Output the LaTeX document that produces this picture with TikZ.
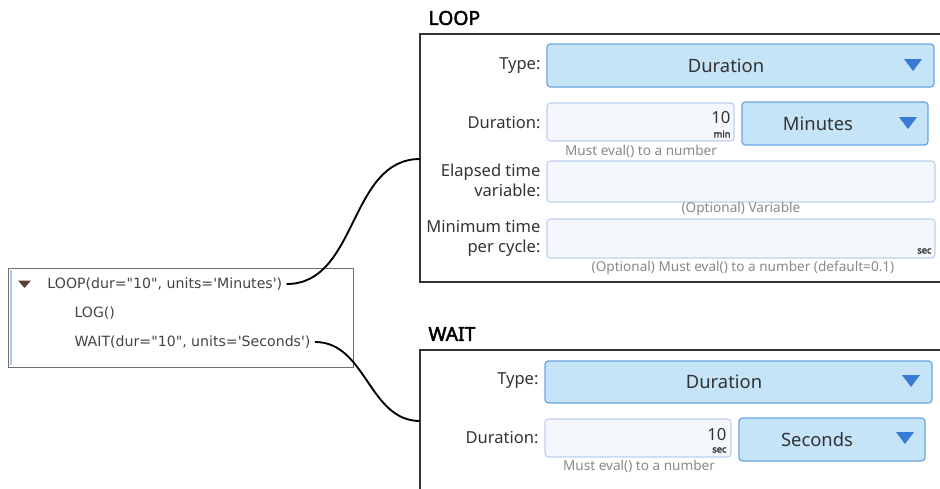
\documentclass[tikz,border=0pt]{standalone}
\usepackage{fontspec}
\setmainfont{Noto Sans}[AutoFakeBold=2.5]
\newfontfamily\treefont{DejaVu Sans}

\definecolor{dropFill}{RGB}{198,228,247}
\definecolor{dropLine}{RGB}{104,166,226}
\definecolor{triBlue}{RGB}{56,122,212}
\definecolor{fieldFill}{RGB}{244,247,252}
\definecolor{fieldLine}{RGB}{186,208,238}
\definecolor{labelText}{RGB}{51,51,51}
\definecolor{hintText}{RGB}{136,136,136}
\definecolor{treeText}{RGB}{68,68,68}
\definecolor{treeLine}{RGB}{110,110,110}
\definecolor{treeBar}{RGB}{172,202,236}
\definecolor{treeTri}{RGB}{92,64,56}

\tikzset{every picture/.style={line width=0.75pt}}

\begin{document}
\begin{tikzpicture}[x=0.75pt,y=0.75pt,yscale=-1,xscale=1,
	panelframe/.style={draw=black!80, line width=1pt},
	dropbox/.style={draw=dropLine, fill=dropFill, line width=0.9pt, rounded corners=2.5pt},
	fieldbox/.style={draw=fieldLine, fill=fieldFill, line width=0.8pt, rounded corners=2.5pt},
	lbl/.style={anchor=east, align=right, inner sep=0pt, text=labelText, font=\fontsize{12.4}{15}\selectfont},
	choice/.style={inner sep=0pt, text=labelText, font=\fontsize{13.8}{16}\selectfont},
	numtext/.style={anchor=east, inner sep=0pt, text=labelText, font=\fontsize{12.5}{15}\selectfont},
	unittext/.style={anchor=east, inner sep=0pt, text=labelText, font=\bfseries\fontsize{7}{8}\selectfont},
	hint/.style={inner sep=0pt, text=hintText, font=\fontsize{10.2}{12}\selectfont},
	paneltitle/.style={anchor=west, inner sep=0pt, font=\bfseries\fontsize{14.5}{17}\selectfont},
	treetext/.style={anchor=west, inner xsep=3pt, inner ysep=0pt, text=treeText, font=\treefont\fontsize{10.6}{13}\selectfont},
	link/.style={line width=1.4pt, black}]
	\useasboundingbox (0,0) rectangle (940,489);

	%Tree list
	\draw[draw=treeLine] (8,268) rectangle (353,367);
	\draw[draw=treeBar, line width=1.2pt] (11,270) -- (11,365);
	\fill[treeTri] (18,280.5) -- (31,280.5) -- (24.5,288) -- cycle;
	% Text Node
	\node[treetext] (loopitem) at (43,284) {LOOP(dur="10", units='Minutes')};
	% Text Node
	\node[treetext] (logitem) at (70,313) {LOG()};
	% Text Node
	\node[treetext] (waititem) at (70,342) {WAIT(dur="10", units='Seconds')};

	%LOOP panel
	\node[paneltitle] (looptitle) at (428,18) {LOOP};
	\draw[panelframe] (940,34) -- (420,34) -- (420,282) -- (940,282);
	\coordinate (loopport) at (420,159);

	\node[lbl] (looptypelbl) at (541,66) {Type:};
	\draw[dropbox] (547,44) rectangle (934,87);
	\node[choice] (looptype) at (726,66) {Duration};
	\fill[triBlue] (904,59) -- (922,59) -- (913,71) -- cycle;

	\node[lbl] (loopdurlbl) at (541,123) {Duration:};
	\draw[fieldbox] (547,103) rectangle (734,141);
	\node[numtext] (loopdur) at (731,118) {10};
	\node[unittext] (loopdurunit) at (731,134) {min};
	\draw[dropbox] (742,102) rectangle (928,145);
	\node[choice] (loopunits) at (818,124) {Minutes};
	\fill[triBlue] (899,117) -- (917,117) -- (908,129) -- cycle;
	\node[hint] (loopdurhint) at (641,151) {Must eval() to a number};

	\node[lbl] (elapsedlbl) at (541,180) {Elapsed time\\variable:};
	\draw[fieldbox] (547,161) rectangle (935,202);
	\node[hint] (elapsedhint) at (741,209) {(Optional) Variable};

	\node[lbl] (mintimelbl) at (541,238.5) {Minimum time\\per cycle:};
	\draw[fieldbox] (547,219) rectangle (935,258);
	\node[unittext] (mintimeunit) at (932,251) {sec};
	\node[hint] (mintimehint) at (743,268) {(Optional) Must eval() to a number (default=0.1)};

	%WAIT panel
	\node[paneltitle] (waittitle) at (428,334) {WAIT};
	\draw[panelframe] (940,350) -- (420,350) -- (420,489);
	\coordinate (waitport) at (420,421);

	\node[lbl] (waittypelbl) at (539,381) {Type:};
	\draw[dropbox] (545,361) rectangle (932,403);
	\node[choice] (waittype) at (724,382) {Duration};
	\fill[triBlue] (902,375) -- (920,375) -- (911,387) -- cycle;

	\node[lbl] (waitdurlbl) at (539,438) {Duration:};
	\draw[fieldbox] (545,419) rectangle (731,457);
	\node[numtext] (waitdur) at (727,435) {10};
	\node[unittext] (waitdurunit) at (727,450) {sec};
	\draw[dropbox] (739,418) rectangle (925,461);
	\node[choice] (waitunits) at (817,440) {Seconds};
	\fill[triBlue] (896,432) -- (914,432) -- (905,444) -- cycle;
	\node[hint] (waitdurhint) at (639,466) {Must eval() to a number};

	%Connectors
	\draw[link] (loopitem.east) to[out=0,in=180] (loopport);
	\draw[link] (waititem.east) to[out=0,in=180] (waitport);

\end{tikzpicture}
\end{document}
